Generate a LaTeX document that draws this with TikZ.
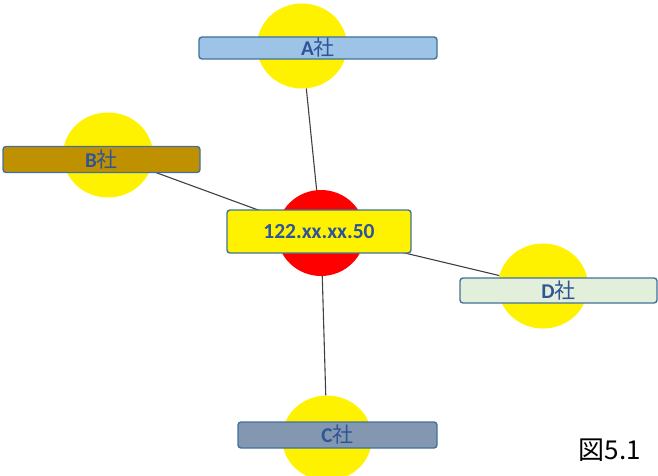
\documentclass[tikz,border=0pt]{standalone}
\usepackage{fontspec}
\setmainfont{Carlito}
\newfontfamily\jpfont{Noto Sans CJK JP}
\usetikzlibrary{shapes.geometric}
\definecolor{labelblue}{RGB}{47,85,151}
\definecolor{edgeblue}{RGB}{65,113,156}
\definecolor{boxA}{RGB}{157,195,230}
\definecolor{boxB}{RGB}{191,144,0}
\definecolor{boxC}{RGB}{132,151,176}
\definecolor{boxD}{RGB}{226,239,218}
\definecolor{wire}{RGB}{64,64,64}
\tikzset{
  halo/.style={ellipse, fill=yellow, minimum width=90pt, minimum height=85pt, inner sep=0pt},
  hubhalo/.style={ellipse, fill=red, minimum width=88pt, minimum height=86pt, inner sep=0pt},
  tag/.style={rectangle, rounded corners=3pt, draw=edgeblue, line width=1.4pt,
    text=labelblue, font=\fontsize{21}{21}\selectfont\bfseries, inner sep=0pt},
  link/.style={draw=wire, line width=1.1pt},
}
\begin{document}
\begin{tikzpicture}[x=1pt,y=-1pt]
\useasboundingbox (0,0) rectangle (658,476);
% halos behind the labels
\node[halo] (ca) at (302,46) {};
\node[halo] (cb) at (108,155) {};
\node[halo] (cc) at (327,438) {};
\node[halo] (cd) at (543,286) {};
\node[hubhalo] (ch) at (321,233) {};
% links between halos
\draw[link] (ca) -- (ch);
\draw[link] (cb) -- (ch);
\draw[link] (cc) -- (ch);
\draw[link] (cd) -- (ch);
% labels
\node[tag, fill=boxA, minimum width=238pt, minimum height=22pt] (ta) at (318,48) {A{\jpfont\mdseries 社}};
\node[tag, fill=boxB, minimum width=197pt, minimum height=26pt] (tb) at (101.5,159.5) {B{\jpfont\mdseries 社}};
\node[tag, fill=boxC, minimum width=199pt, minimum height=26pt] (tc) at (337.5,435) {C{\jpfont\mdseries 社}};
\node[tag, fill=boxD, minimum width=197pt, minimum height=25pt] (td) at (558.5,290.5) {D{\jpfont\mdseries 社}};
\node[tag, fill=yellow, minimum width=184pt, minimum height=43pt, font=\fontsize{21.5}{21.5}\selectfont\bfseries] (th) at (319,231.5) {122.xx.xx.50};
% caption
\node[font=\jpfont\fontsize{26}{26}\selectfont, inner sep=0pt] (cap) at (610,450) {図5.1};
\end{tikzpicture}
\end{document}
